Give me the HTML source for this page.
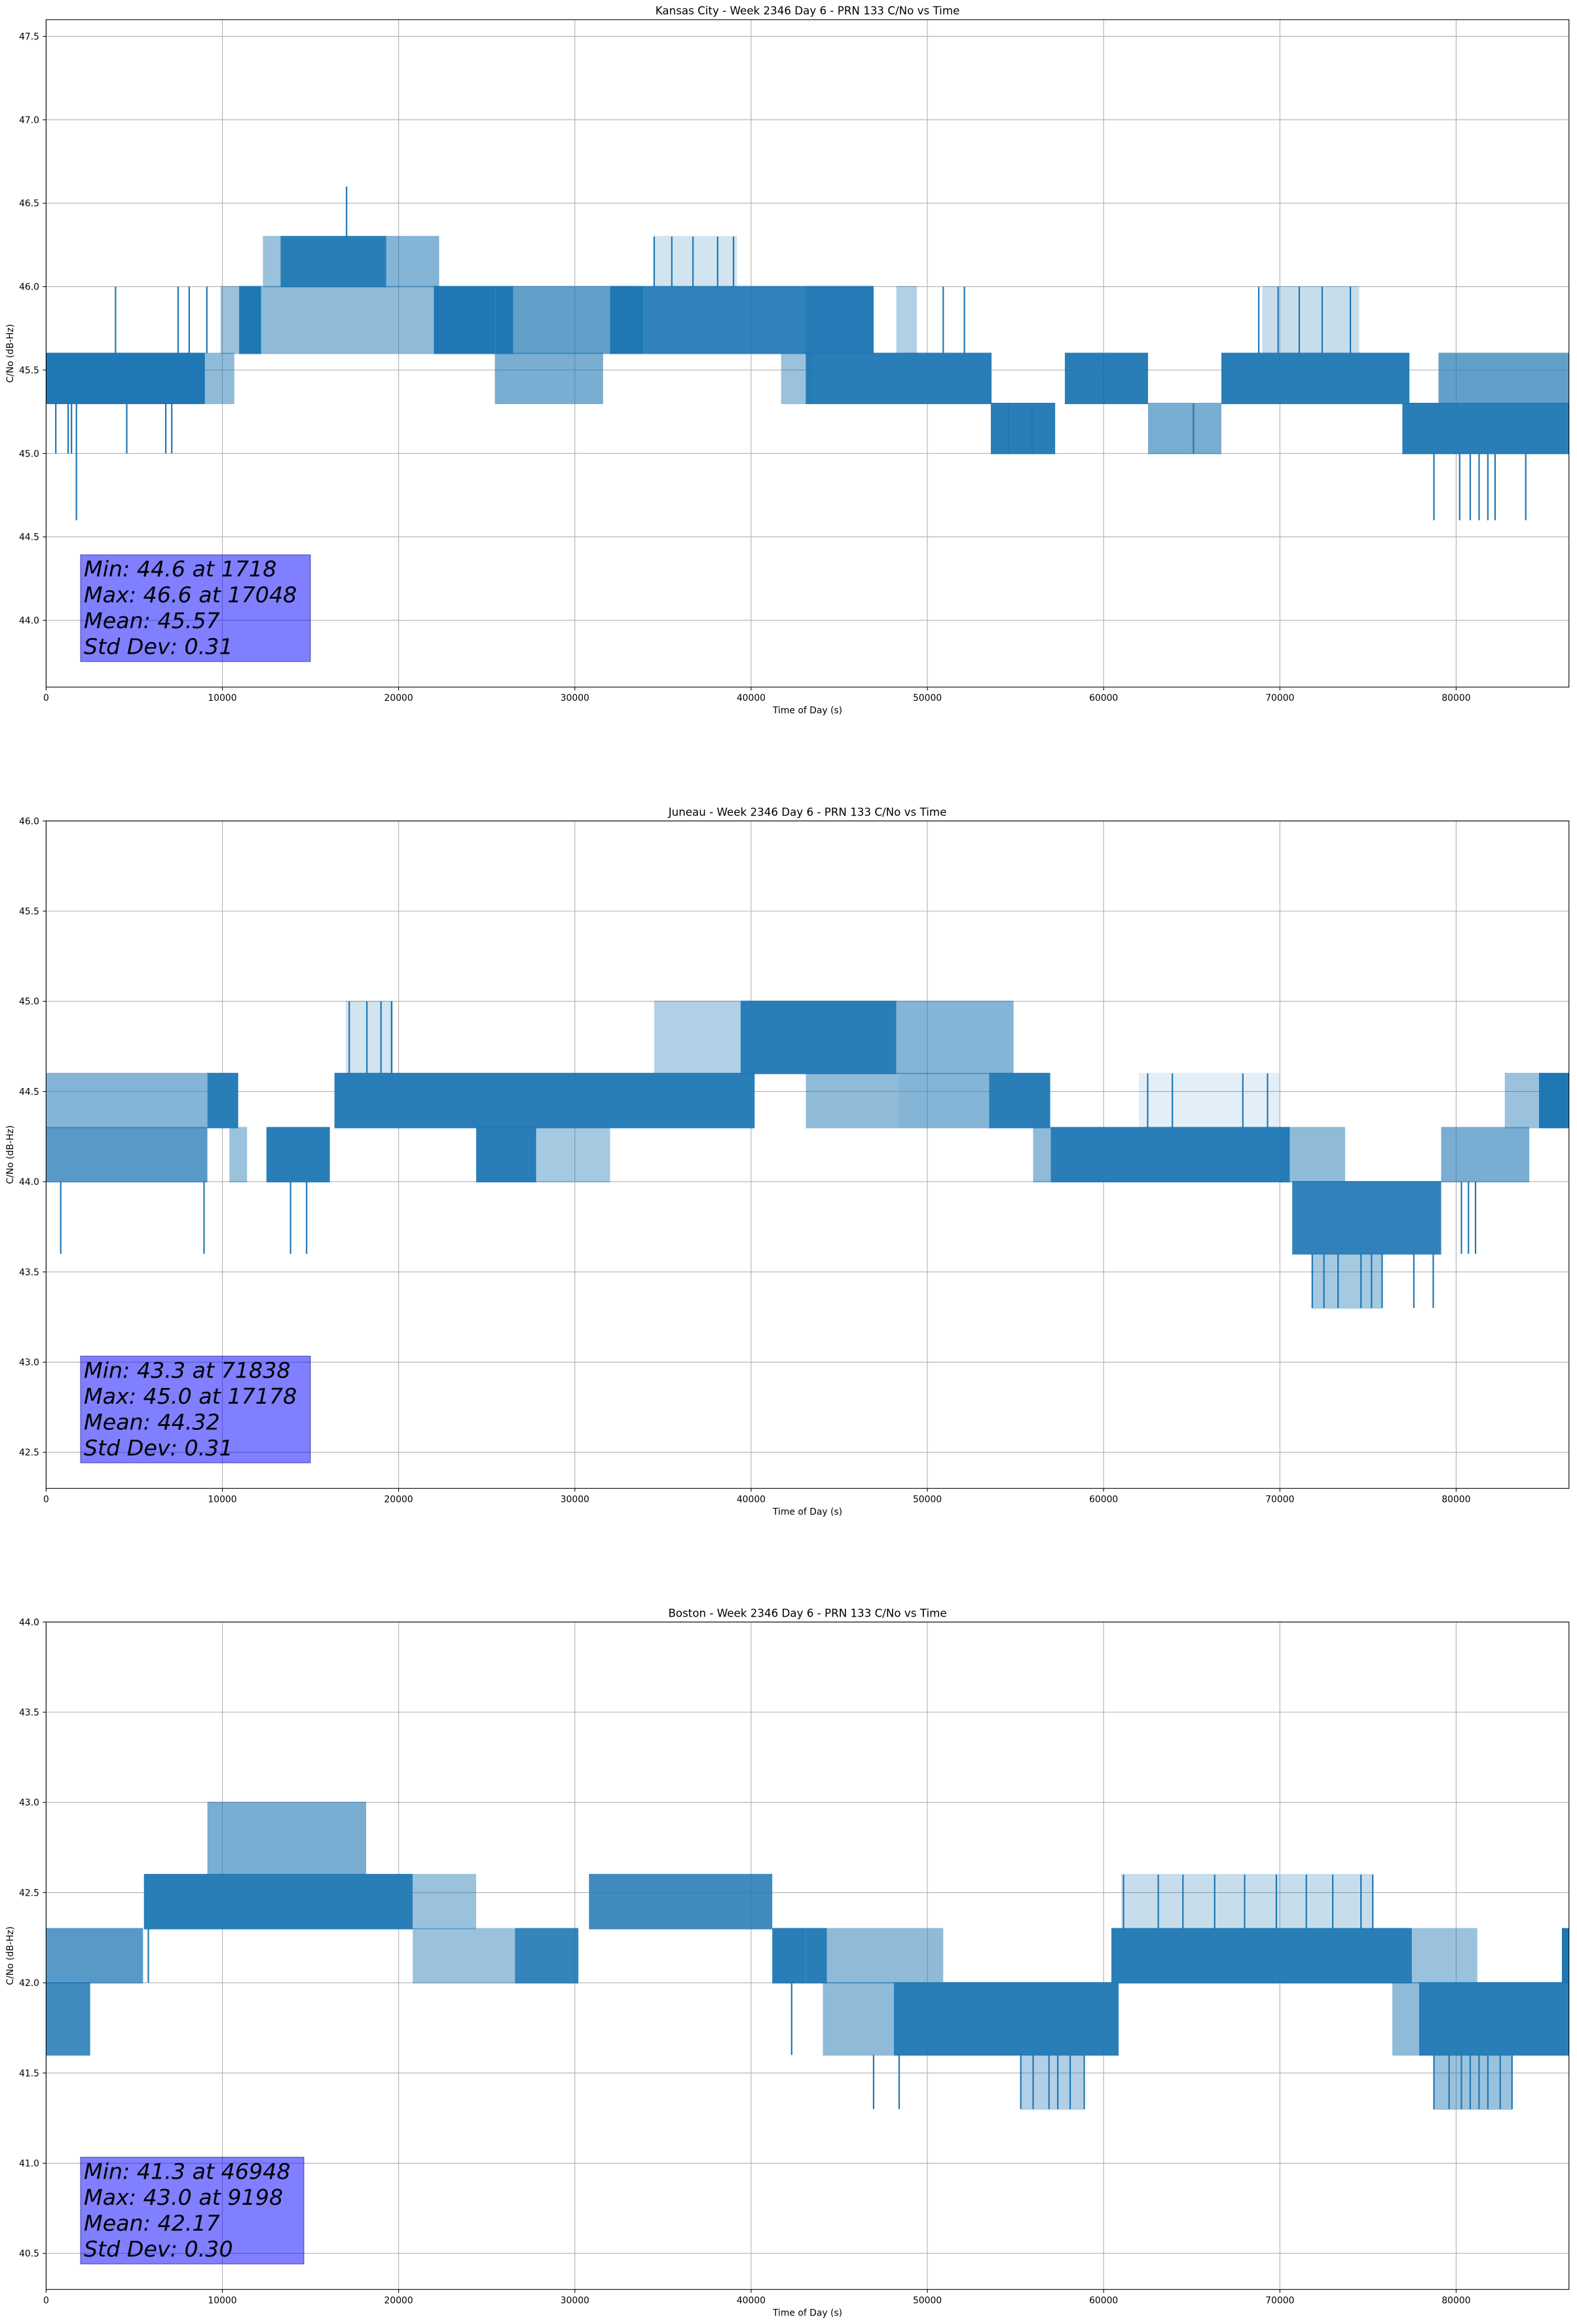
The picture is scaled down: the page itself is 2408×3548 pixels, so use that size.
<!DOCTYPE html>
<html><head><meta charset="utf-8"><title>PRN 133 C/No vs Time</title>
<style>html,body{margin:0;padding:0;background:#fff}svg{display:block}
text{font-family:"DejaVu Sans","Liberation Sans",sans-serif;fill:#000}</style></head>
<body>
<svg id="fig" xmlns="http://www.w3.org/2000/svg" width="2408" height="3548" viewBox="0 0 2408 3548"></svg>
<script>
// ---------- Kansas City (plot 1) ----------
const p1Title = "Kansas City - Week 2346 Day 6 - PRN 133 C/No vs Time";
const p1YTicks = [44.0, 44.5, 45.0, 45.5, 46.0, 46.5, 47.0, 47.5];
const p1Stats = ["Min: 44.6 at 1718", "Max: 46.6 at 17048", "Mean: 45.57", "Std Dev: 0.31"];
const p1BandStart = [0, 9010, 9900, 10950, 12200, 13300, 12300, 19300, 22000, 25500, 26500, 32000, 33900, 25460, 41700, 43100, 43100, 53600, 57800, 62520, 66680, 76950, 79000, 48240, 34500, 69000];
const p1BandEnd   = [9010, 10680, 10950, 12200, 22300, 19300, 13300, 22300, 25500, 26500, 33500, 33900, 46950, 31600, 43500, 53640, 46950, 57250, 62520, 66680, 77350, 86400, 86400, 49400, 39200, 74500];
const p1BandLo    = [45.3, 45.3, 45.6, 45.6, 45.6, 46.0, 46.0, 46.0, 45.6, 45.6, 45.6, 45.6, 45.6, 45.3, 45.3, 45.3, 45.6, 45.0, 45.3, 45.0, 45.3, 45.0, 45.3, 45.6, 46.0, 45.6];
const p1BandHi    = [45.6, 45.6, 46.0, 46.0, 46.0, 46.3, 46.3, 46.3, 46.0, 46.0, 46.0, 46.0, 46.0, 45.6, 45.6, 45.6, 46.0, 45.3, 45.6, 45.3, 45.6, 45.3, 45.6, 46.0, 46.3, 46.0];
const p1BandFill  = [1, 0.5, 0.45, 1, 0.5, 0.95, 0.45, 0.55, 1, 1, 0.7, 1, 0.92, 0.6, 0.45, 0.95, 0.6, 0.95, 0.95, 0.6, 0.95, 0.95, 0.7, 0.35, 0.2, 0.25];
const p1SpikeT  = [550, 1250, 1440, 1718, 4575, 6790, 7130, 3940, 7490, 8120, 9120, 17048, 34500, 35500, 36700, 38100, 39000, 55945, 65100, 78740, 80200, 80800, 81300, 81800, 82210, 83950, 68800, 69900, 71100, 72400, 74000, 60000, 54600, 52100, 50900];
const p1SpikeLo = [45.0, 45.0, 45.0, 44.6, 45.0, 45.0, 45.0, 45.6, 45.6, 45.6, 45.6, 46.3, 46.0, 46.0, 46.0, 46.0, 46.0, 45.0, 45.0, 44.6, 44.6, 44.6, 44.6, 44.6, 44.6, 44.6, 45.6, 45.6, 45.6, 45.6, 45.6, 45.3, 45.0, 45.6, 45.6];
const p1SpikeHi = [45.3, 45.3, 45.3, 45.3, 45.3, 45.3, 45.3, 46.0, 46.0, 46.0, 46.0, 46.6, 46.3, 46.3, 46.3, 46.3, 46.3, 45.3, 45.3, 45.0, 45.0, 45.0, 45.0, 45.0, 45.0, 45.0, 46.0, 46.0, 46.0, 46.0, 46.0, 45.6, 45.3, 46.0, 46.0];

// ---------- Juneau (plot 2) ----------
const p2Title = "Juneau - Week 2346 Day 6 - PRN 133 C/No vs Time";
const p2YTicks = [42.5, 43.0, 43.5, 44.0, 44.5, 45.0, 45.5, 46.0];
const p2Stats = ["Min: 43.3 at 71838", "Max: 45.0 at 17178", "Mean: 44.32", "Std Dev: 0.31"];
const p2BandStart = [0, 0, 9150, 10400, 12500, 16360, 24400, 27700, 34500, 39400, 48240, 43106, 48400, 53500, 56000, 57000, 70700, 79150, 82760, 84700, 70000, 17000, 71800, 62000];
const p2BandEnd   = [9150, 9150, 10900, 11400, 16100, 40200, 27800, 32000, 39400, 48240, 54890, 48400, 53500, 56970, 57000, 70560, 79150, 84150, 84700, 86400, 73700, 19700, 75800, 70000];
const p2BandLo    = [44.3, 44.0, 44.3, 44.0, 44.0, 44.3, 44.0, 44.0, 44.6, 44.6, 44.6, 44.3, 44.3, 44.3, 44.0, 44.0, 43.6, 44.0, 44.3, 44.3, 44.0, 44.6, 43.3, 44.3];
const p2BandHi    = [44.6, 44.3, 44.6, 44.3, 44.3, 44.6, 44.3, 44.3, 45.0, 45.0, 45.0, 44.6, 44.6, 44.6, 44.3, 44.3, 44.0, 44.3, 44.6, 44.6, 44.3, 45.0, 43.6, 44.6];
const p2BandFill  = [0.55, 0.75, 0.95, 0.45, 0.95, 0.95, 0.95, 0.4, 0.35, 0.95, 0.55, 0.5, 0.55, 0.95, 0.5, 0.95, 0.92, 0.6, 0.45, 1, 0.5, 0.2, 0.4, 0.12];
const p2SpikeT  = [830, 8960, 13870, 14780, 17200, 18200, 19000, 19600, 62500, 63900, 67900, 69300, 71838, 72500, 73300, 74600, 75200, 75800, 77600, 78700, 80300, 80700, 81100];
const p2SpikeLo = [43.6, 43.6, 43.6, 43.6, 44.6, 44.6, 44.6, 44.6, 44.3, 44.3, 44.3, 44.3, 43.3, 43.3, 43.3, 43.3, 43.3, 43.3, 43.3, 43.3, 43.6, 43.6, 43.6];
const p2SpikeHi = [44.0, 44.0, 44.0, 44.0, 45.0, 45.0, 45.0, 45.0, 44.6, 44.6, 44.6, 44.6, 43.6, 43.6, 43.6, 43.6, 43.6, 43.6, 43.6, 43.6, 44.0, 44.0, 44.0];

// ---------- Boston (plot 3) ----------
const p3Title = "Boston - Week 2346 Day 6 - PRN 133 C/No vs Time";
const p3YTicks = [40.5, 41.0, 41.5, 42.0, 42.5, 43.0, 43.5, 44.0];
const p3Stats = ["Min: 41.3 at 46948", "Max: 43.0 at 9198", "Mean: 42.17", "Std Dev: 0.30"];
const p3BandStart = [0, 0, 5550, 20800, 30800, 9150, 20800, 26600, 41200, 43100, 44300, 44070, 48100, 60440, 76380, 77900, 77490, 86000, 61000, 55300, 78700];
const p3BandEnd   = [2500, 5500, 20800, 24400, 41200, 18160, 26600, 30200, 43100, 44300, 50900, 48100, 60850, 77490, 77900, 86400, 81200, 86400, 75300, 58900, 83200];
const p3BandLo    = [41.6, 42.0, 42.3, 42.3, 42.3, 42.6, 42.0, 42.0, 42.0, 42.0, 42.0, 41.6, 41.6, 42.0, 41.6, 41.6, 42.0, 42.0, 42.3, 41.3, 41.3];
const p3BandHi    = [42.0, 42.3, 42.6, 42.6, 42.6, 43.0, 42.3, 42.3, 42.3, 42.3, 42.3, 42.0, 42.0, 42.3, 42.0, 42.0, 42.3, 42.3, 42.6, 41.6, 41.6];
const p3BandFill  = [0.85, 0.75, 0.95, 0.45, 0.85, 0.6, 0.45, 0.9, 0.95, 0.95, 0.5, 0.5, 0.95, 0.95, 0.5, 0.95, 0.45, 1, 0.25, 0.35, 0.45];
const p3SpikeT  = [5800, 42300, 46948, 48400, 55300, 56000, 56900, 57400, 58100, 58900, 61130, 63100, 64500, 66300, 68000, 69800, 71500, 73000, 74600, 75270, 78740, 79600, 80300, 80800, 81300, 81800, 82500, 83170];
const p3SpikeLo = [42.0, 41.6, 41.3, 41.3, 41.3, 41.3, 41.3, 41.3, 41.3, 41.3, 42.3, 42.3, 42.3, 42.3, 42.3, 42.3, 42.3, 42.3, 42.3, 42.3, 41.3, 41.3, 41.3, 41.3, 41.3, 41.3, 41.3, 41.3];
const p3SpikeHi = [42.3, 42.0, 41.6, 41.6, 41.6, 41.6, 41.6, 41.6, 41.6, 41.6, 42.6, 42.6, 42.6, 42.6, 42.6, 42.6, 42.6, 42.6, 42.6, 42.6, 41.6, 41.6, 41.6, 41.6, 41.6, 41.6, 41.6, 41.6];

const xTicks = [0, 10000, 20000, 30000, 40000, 50000, 60000, 70000, 80000];
const xMax = 86400;

const NS = "http://www.w3.org/2000/svg";
const fig = document.getElementById('fig');
const AX_L = 70.4, AX_R = 2395.7, AX_H = 1019;
const BLUE = "#1f77b4";

function mk(tag, attrs, parent) {
  const e = document.createElementNS(NS, tag);
  for (const k in attrs) e.setAttribute(k, attrs[k]);
  parent.appendChild(e);
  return e;
}

function drawPlot(key, top, ymin, ymax, title, yTicks, stats, bS, bE, bLo, bHi, bF, sT, sLo, sHi, boxW) {
  const bottom = top + AX_H;
  const xs = t => AX_L + t / xMax * (AX_R - AX_L);
  const ys = v => top + (ymax - v) / (ymax - ymin) * AX_H;
  const g = mk('g', {}, fig);
  
  

  const grid = mk('g', {stroke: '#b0b0b0', 'stroke-width': 1.1}, g);
  
  
  xTicks.forEach(t => { mk('line', {x1: xs(t), x2: xs(t), y1: top, y2: bottom}, grid); });
  yTicks.forEach(v => { mk('line', {x1: AX_L, x2: AX_R, y1: ys(v), y2: ys(v)}, grid); });

  const series = mk('g', {}, g);
  
  
  for (let i = 0; i < bS.length; i++) {
    const x0 = xs(bS[i]), x1 = xs(bE[i]);
    const r = mk('rect', {x: x0, y: ys(bHi[i]) - 1, width: Math.max(2, x1 - x0), height: ys(bLo[i]) - ys(bHi[i]) + 2, fill: BLUE, 'fill-opacity': bF[i]}, series);
    
    
  }
  for (let i = 0; i < sT.length; i++) {
    const l = mk('line', {x1: xs(sT[i]), x2: xs(sT[i]), y1: ys(sHi[i]), y2: ys(sLo[i]), stroke: BLUE, 'stroke-width': 2.2}, series);
    
    
  }

  const boxBottom = bottom - 39, boxTop = boxBottom - 163;
  const box = mk('g', {}, g);
  
  
  mk('rect', {x: 123, y: boxTop, width: boxW, height: 163, fill: '#0000ff', 'fill-opacity': 0.5, stroke: '#000080', 'stroke-opacity': 0.5, 'stroke-width': 1.2}, box);
  stats.forEach((s, i) => {
    const t = mk('text', {x: 128, y: boxTop + 33 + i * 39.5, 'font-size': 33.3, 'font-style': 'italic'}, box);
    t.textContent = s;
    
    
  });

  const sp = mk('rect', {x: AX_L, y: top, width: AX_R - AX_L, height: AX_H, fill: 'none', stroke: '#000', 'stroke-width': 1.1}, g);
  
  

  const xt = mk('g', {}, g);
  
  
  xTicks.forEach(t => {
    mk('line', {x1: xs(t), x2: xs(t), y1: bottom, y2: bottom + 5, stroke: '#000', 'stroke-width': 1.1}, xt);
    const tx = mk('text', {x: xs(t), y: bottom + 21, 'font-size': 13.9, 'text-anchor': 'middle'}, xt);
    tx.textContent = String(t);
    
    
  });
  const yt = mk('g', {}, g);
  
  
  yTicks.forEach(v => {
    mk('line', {x1: AX_L - 5, x2: AX_L, y1: ys(v), y2: ys(v), stroke: '#000', 'stroke-width': 1.1}, yt);
    const tx = mk('text', {x: 60, y: ys(v) + 5, 'font-size': 13.9, 'text-anchor': 'end'}, yt);
    tx.textContent = v.toFixed(1);
    
    
  });

  const xl = mk('text', {x: (AX_L + AX_R) / 2, y: bottom + 40, 'font-size': 13.9, 'text-anchor': 'middle'}, g);
  xl.textContent = 'Time of Day (s)';
  
  
  const cy = top + AX_H / 2;
  const yl = mk('text', {x: 20, y: cy, 'font-size': 13.9, 'text-anchor': 'middle', transform: 'rotate(-90 20 ' + cy + ')'}, g);
  yl.textContent = 'C/No (dB-Hz)';
  
  
  const tt = mk('text', {x: (AX_L + AX_R) / 2, y: top - 8, 'font-size': 16.7, 'text-anchor': 'middle'}, g);
  tt.textContent = title;
  
  
}

drawPlot('kansas-city', 30, 43.6, 47.6, p1Title, p1YTicks, p1Stats, p1BandStart, p1BandEnd, p1BandLo, p1BandHi, p1BandFill, p1SpikeT, p1SpikeLo, p1SpikeHi, 351);
drawPlot('juneau', 1253.3, 42.3, 46.0, p2Title, p2YTicks, p2Stats, p2BandStart, p2BandEnd, p2BandLo, p2BandHi, p2BandFill, p2SpikeT, p2SpikeLo, p2SpikeHi, 351);
drawPlot('boston', 2476.3, 40.3, 44.0, p3Title, p3YTicks, p3Stats, p3BandStart, p3BandEnd, p3BandLo, p3BandHi, p3BandFill, p3SpikeT, p3SpikeLo, p3SpikeHi, 341);
</script>
</body></html>
